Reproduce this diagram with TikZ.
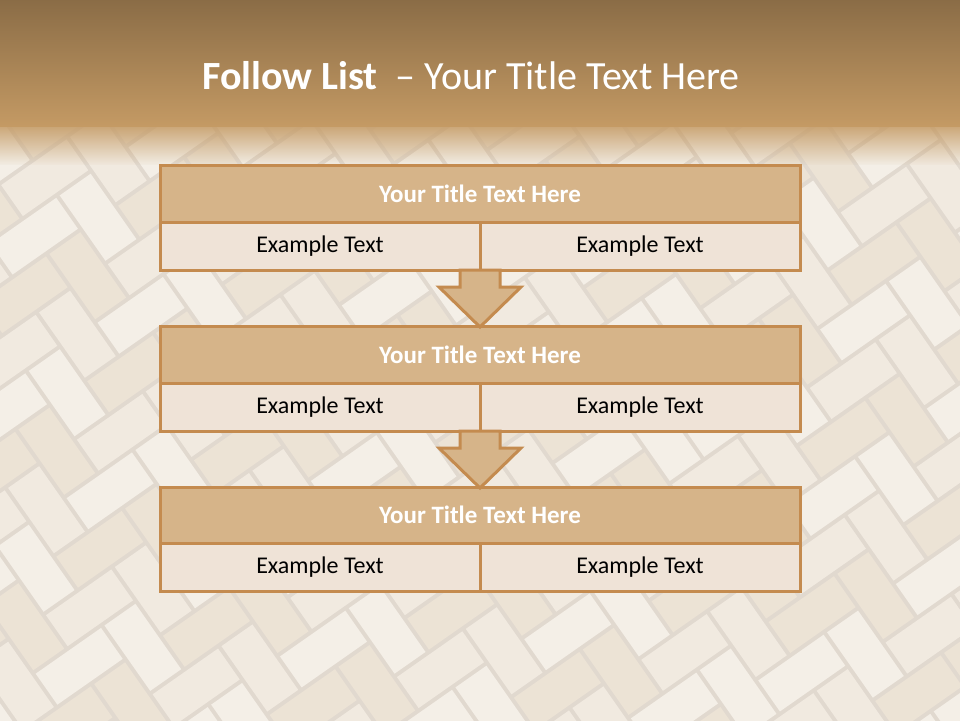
\documentclass[tikz,border=0pt]{standalone}
\usepackage{fontspec}
\setmainfont{Carlito}
\usetikzlibrary{calc}
\definecolor{bgbase}{HTML}{DAD0C4}
\definecolor{tileA}{HTML}{EEE5D9}
\definecolor{tileB}{HTML}{F2EBE1}
\definecolor{tileC}{HTML}{E8DCCB}
\definecolor{hdrtop}{HTML}{8A6C46}
\definecolor{hdrbot}{HTML}{C49A64}
\definecolor{bordc}{HTML}{C48B4F}
\definecolor{titfill}{HTML}{D6B489}
\definecolor{rowfill}{HTML}{EFE3D7}
\tikzset{
  tbox/.style={draw=bordc, line width=3pt, fill=titfill, minimum width=640pt, minimum height=57pt,
    inner sep=0pt, outer sep=0pt, text=white, font=\fontsize{25}{30}\selectfont\bfseries},
  cellbox/.style={draw=bordc, line width=3pt, fill=rowfill, minimum width=320pt, minimum height=48pt,
    inner sep=0pt, outer sep=0pt, text=black, font=\fontsize{24}{29}\selectfont},
  blockarrow/.style={draw=bordc, line width=3pt, fill=titfill, line join=miter},
}
\begin{document}
\begin{tikzpicture}[x=1pt,y=-1pt]
\useasboundingbox (0,0) rectangle (960,720);
\clip (-1,-1) rectangle (961,721);
% background texture
\fill[bgbase] (-1,-1) rectangle (961,721);
\begin{scope}[shift={(480pt,-360pt)}, rotate=35, x=42pt, y=42pt]
\foreach \n in {-26,...,26}{
  \foreach \k in {-11,...,11}{
    \pgfmathtruncatemacro\s{mod(abs(\n*7+\k*13),3)}
    \ifcase\s \def\tc{tileA}\or \def\tc{tileB}\else \def\tc{tileC}\fi
    \fill[\tc] ({\n+2*\k+0.05},{\n-2*\k+0.05}) rectangle ({\n+2*\k+1.95},{\n-2*\k+0.95});
    \fill[\tc] ({\n+2+2*\k+0.05},{\n-1-2*\k+0.05}) rectangle ({\n+3+2*\k-0.05},{\n+1-2*\k-0.05});
  }
}
\end{scope}
\fill[white, opacity=0.2] (-1,-1) rectangle (961,721);
% header
\shade[top color=hdrtop, bottom color=hdrbot] (-1,-1) rectangle (961,126);
\foreach \i in {0,...,39}{
  \pgfmathsetmacro\op{0.85*(1-\i/40)+0.02}
  \fill[hdrbot, opacity=\op] (-1,{125+\i}) rectangle (961,{126.2+\i});
}
\node[text=white, font=\fontsize{40}{46}\selectfont] (hdr) at (471,76)
  {\textbf{Follow List}\ \ – Your Title Text Here};
% boxes
\node[tbox] (t1) at (480,193.5) {Your Title Text Here};
\node[cellbox] (l1) at (320,246) {Example Text};
\node[cellbox] (r1) at (640,246) {Example Text};
\node[tbox] (t2) at (480,354.5) {Your Title Text Here};
\node[cellbox] (l2) at (320,407) {Example Text};
\node[cellbox] (r2) at (640,407) {Example Text};
\node[tbox, minimum height=56pt] (t3) at (480,515) {Your Title Text Here};
\node[cellbox] (l3) at (320,567) {Example Text};
\node[cellbox] (r3) at (640,567) {Example Text};
% block arrows
\draw[blockarrow] ($(l1.south east)+(-20,0)$) -- ++(0,17) -- ++(-21,0) -- ($(t2.north)+(0,1)$)
  -- ($(l1.south east)+(41,17)$) -- ++(-21,0) -- ($(l1.south east)+(20,0)$) -- cycle;
\draw[blockarrow] ($(l2.south east)+(-20,0)$) -- ++(0,17) -- ++(-21,0) -- ($(t3.north)+(0,1)$)
  -- ($(l2.south east)+(41,17)$) -- ++(-21,0) -- ($(l2.south east)+(20,0)$) -- cycle;
\end{tikzpicture}
\end{document}
